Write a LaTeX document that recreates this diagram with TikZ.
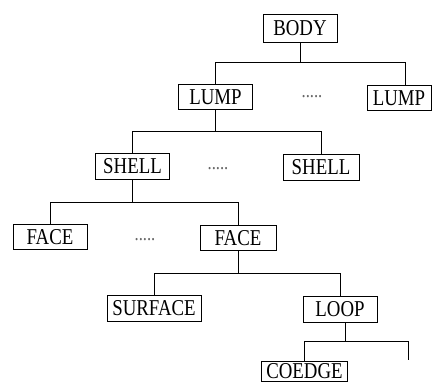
\documentclass[tikz,border=0pt]{standalone}
\usepackage{fontspec}
\setmainfont[FakeStretch=0.83]{Liberation Serif}
\usepackage{tikz}
\usetikzlibrary{positioning}

\begin{document}
\begin{tikzpicture}[
            x=0.75pt, y=-0.75pt,
            box/.style={rectangle, draw, line width=0.75pt, inner sep=0pt, minimum height=18.5pt, align=center, font=\fontsize{17}{17}\selectfont},
            dots/.style={inner sep=0pt, text=black!60, font=\fontsize{15}{15}\selectfont},
            link/.style={-, line width=0.75pt}
        ]
        \useasboundingbox (0,0) rectangle (433,383);

        % Body and lumps
        \node[box, minimum width=55.5pt, minimum height=21pt] (body) at (300,28) {BODY};
        \node[box, minimum width=56pt] (lumpA) at (215.5,97) {LUMP};
        \node[box, minimum width=48pt] (lumpB) at (399,98) {LUMP};
        \node[dots] (dotsA) at (312,97) {.....};

        % Shells
        \node[box, minimum width=56pt, minimum height=19.5pt] (shellA) at (132.5,166) {SHELL};
        \node[box, minimum width=57pt, minimum height=19pt] (shellB) at (321,167.5) {SHELL};
        \node[dots] (dotsB) at (218,169) {.....};

        % Faces
        \node[box, minimum width=55.5pt] (faceA) at (50,237) {FACE};
        \node[box, minimum width=57pt] (faceB) at (238,238) {FACE};
        \node[dots] (dotsC) at (145,240) {.....};

        % Surface and loop
        \node[box, minimum width=70.5pt, minimum height=19pt] (surface) at (154,308.5) {SURFACE};
        \node[box, minimum width=55.5pt, minimum height=19pt] (loop) at (340,309.5) {LOOP};
        \node[box, minimum width=64pt, minimum height=15.5pt] (coedge) at (304.5,371.5) {COEDGE};
        \coordinate (loopend) at (408,360);

        % Connections
        \draw[link] (body.south) -- ++(0,20) -| (lumpA.north);
        \draw[link] (body.south) -- ++(0,20) -| ([xshift=4.5pt]lumpB.north);
        \draw[link] (lumpA.south) -- ++(0,22) -| (shellA.north);
        \draw[link] (lumpA.south) -- ++(0,22) -| (shellB.north);
        \draw[link] (shellA.south) -- ++(0,23) -| (faceA.north);
        \draw[link] (shellA.south) -- ++(0,23) -| (faceB.north);
        \draw[link] (faceB.south) -- ++(0,23) -| (surface.north);
        \draw[link] (faceB.south) -- ++(0,23) -| (loop.north);
        \draw[link] ([xshift=3.75pt]loop.south) -- ++(0,19) -| (coedge.north);
        \draw[link] ([xshift=3.75pt]loop.south) -- ++(0,19) -| (loopend);

    \end{tikzpicture}
\end{document}
